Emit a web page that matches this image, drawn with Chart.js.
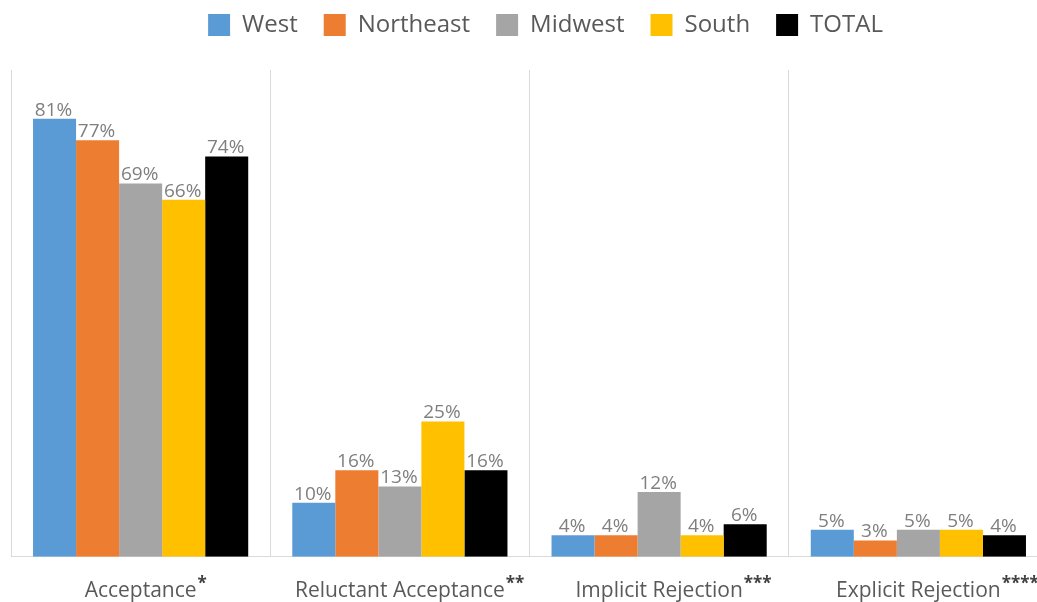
<!DOCTYPE html>
<html>
<head>
<meta charset="utf-8">
<script src="https://cdn.jsdelivr.net/npm/chart.js@4.4.0/dist/chart.umd.min.js"></script>
<style>
  html, body { margin: 0; padding: 0; background: #fff; overflow: hidden; }
  #wrap { width: 1048px; height: 602px; }
</style>
</head>
<body>
<div id="wrap"><canvas id="chart"></canvas></div>
<script>
// data
const categories = ['Acceptance*', 'Reluctant Acceptance**', 'Implicit Rejection***', 'Explicit Rejection****'];
const west = [81, 10, 4, 5];
const northeast = [77, 16, 4, 3];
const midwest = [69, 13, 12, 5];
const south = [66, 25, 4, 5];
const total = [74, 16, 6, 4];

// labels on top of the bars
const barLabels = {
    id: 'barLabels',
    afterDatasetsDraw(chart) {
        const ctx = chart.ctx;
        ctx.save();
        ctx.font = '19px "Open Sans", sans-serif';
        ctx.fillStyle = '#7f7f7f';
        ctx.textAlign = 'center';
        ctx.textBaseline = 'bottom';
        chart.data.datasets.forEach((ds, i) => {
            chart.getDatasetMeta(i).data.forEach((bar, j) => {
                ctx.fillText(ds.data[j] + '%', bar.x - 1, bar.y + 1);
            });
        });
        ctx.restore();
    }
};

// category labels with the asterisks set as superscript
const supLabels = {
    id: 'supLabels',
    afterDraw(chart) {
        const ctx = chart.ctx;
        const x = chart.scales.x;
        ctx.save();
        ctx.textBaseline = 'alphabetic';
        ctx.textAlign = 'left';
        chart.data.labels.forEach((lab, i) => {
            const main = lab.replace(/\*+$/, '');
            const stars = lab.slice(main.length);
            const cx = x.getPixelForTick(i);
            ctx.fillStyle = '#595959';
            ctx.font = '21px "Open Sans", sans-serif';
            const w = ctx.measureText(main).width;
            const left = cx - w / 2;
            ctx.fillText(main, left, 597);
            ctx.fillStyle = '#404040';
            ctx.font = 'bold 17px "Open Sans", sans-serif';
            ctx.fillText(stars, left + w + 1, 589);
        });
        ctx.restore();
    }
};

// more room under the legend, and nudge it right
const legendSpace = {
    id: 'legendSpace',
    beforeUpdate(chart) {
        const lg = chart.legend;
        if (lg && !lg._patched) {
            const fit = lg.fit;
            lg.fit = function () {
                fit.call(this);
                this.height += 23;
            };
            lg._patched = true;
        }
    },
    afterLayout(chart) {
        chart.legend.left += 16;
        chart.legend.right += 16;
    }
};

const ctx = document.getElementById('chart').getContext('2d');
new Chart(ctx, {
    type: 'bar',
    data: {
        labels: categories,
        datasets: [
            { label: 'West', data: west, backgroundColor: '#5B9BD5' },
            { label: 'Northeast', data: northeast, backgroundColor: '#ED7D31' },
            { label: 'Midwest', data: midwest, backgroundColor: '#A5A5A5' },
            { label: 'South', data: south, backgroundColor: '#FFC000' },
            { label: 'TOTAL', data: total, backgroundColor: '#000000' }
        ]
    },
    options: {
        responsive: true,
        maintainAspectRatio: false,
        animation: false,
        categoryPercentage: 0.83,
        barPercentage: 1.0,
        layout: { padding: { left: 11, right: 0, top: -13, bottom: -20 } },
        plugins: {
            legend: {
                position: 'top',
                labels: {
                    boxWidth: 22,
                    boxHeight: 22,
                    color: '#595959',
                    font: { size: 24, family: '"Open Sans", sans-serif' },
                    padding: 26
                }
            },
            tooltip: { enabled: false }
        },
        scales: {
            x: {
                grid: { display: true, offset: true, color: '#d9d9d9', drawTicks: false },
                border: { display: true, color: '#d9d9d9' },
                ticks: {
                    color: 'rgba(0,0,0,0)',
                    font: { size: 21, family: '"Open Sans", sans-serif' },
                    padding: 20
                }
            },
            y: {
                display: false,
                min: 0,
                max: 90
            }
        }
    },
    plugins: [barLabels, supLabels, legendSpace]
});
</script>
</body>
</html>
